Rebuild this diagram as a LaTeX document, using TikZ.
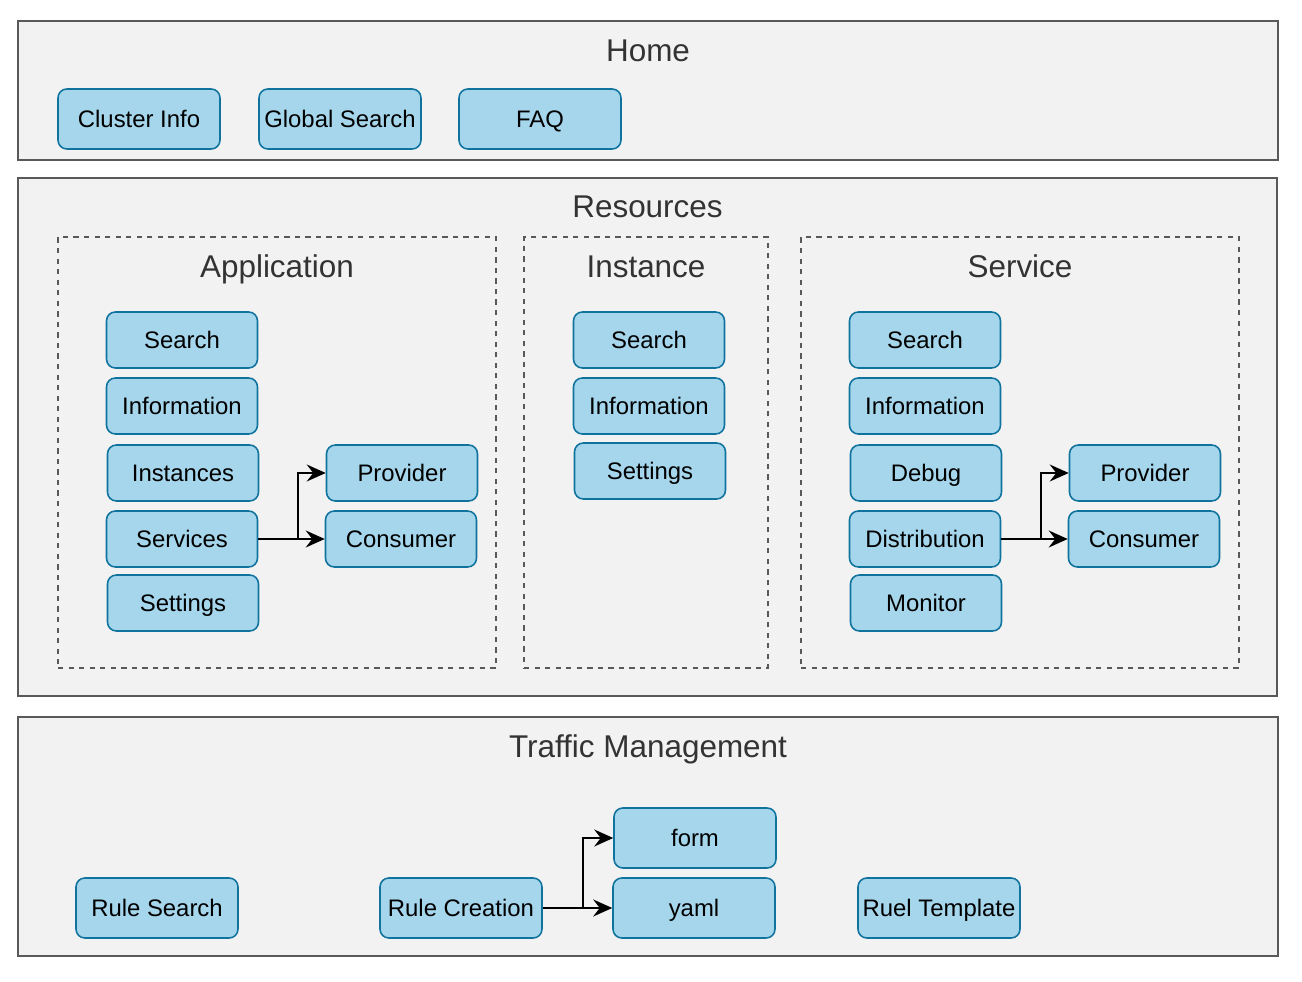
\documentclass[tikz,border=0pt]{standalone}
\usepackage{fontspec}
\setmainfont{Liberation Sans}
\usetikzlibrary{arrows.meta,positioning}
\definecolor{panelfill}{HTML}{F2F2F2}
\definecolor{paneldraw}{HTML}{595959}
\definecolor{itemfill}{HTML}{A5D6EC}
\definecolor{itemdraw}{HTML}{10739E}
\definecolor{titletext}{HTML}{333333}

\begin{document}
\begin{tikzpicture}[
  x=0.02cm, y=-0.02cm,
  node distance=0.2cm and 1.6cm,
  panel/.style={draw=paneldraw, line width=1pt, fill=panelfill, inner sep=0pt},
  group/.style={draw=paneldraw, dashed, line width=0.7pt, fill=panelfill, inner sep=0pt},
  title/.style={text=titletext, anchor=base, font=\fontsize{17.9}{21}\selectfont},
  item/.style={draw=itemdraw, line width=0.9pt, fill=itemfill, rounded corners=5pt,
    minimum width=3.02cm, minimum height=1.12cm, inner sep=1pt,
    text height=1.06em, text depth=0.1em, font=\fontsize{13.6}{16}\selectfont},
  wide/.style={item, minimum width=3.24cm, minimum height=1.2cm},
  link/.style={-{Stealth[length=3.8mm, width=3.4mm, inset=1.3mm]}, line width=1pt}
]
\useasboundingbox (0,0) rectangle (1302,982);

% panels
\node[panel, minimum width=25.2cm, minimum height=2.78cm] (home) at (648,90.5) {};
\node[panel, minimum width=25.18cm, minimum height=10.36cm] (res) at (647.5,437) {};
\node[panel, minimum width=25.2cm, minimum height=4.78cm] (traffic) at (648,836.5) {};
\node[title] at ([yshift=-0.82cm]home.north) {Home};
\node[title] at ([yshift=-0.8cm]res.north) {Resources};
\node[title] at ([yshift=-0.82cm]traffic.north) {Traffic Management};

% resource groups
\node[group, minimum width=8.76cm, minimum height=8.62cm] (app) at (277,452.5) {};
\node[group, minimum width=4.88cm, minimum height=8.62cm] (inst) at (646,452.5) {};
\node[group, minimum width=8.76cm, minimum height=8.62cm] (svc) at (1020,452.5) {};
\node[title] at ([yshift=-0.82cm]app.north) {Application};
\node[title] at ([yshift=-0.82cm]inst.north) {Instance};
\node[title] at ([yshift=-0.82cm]svc.north) {Service};

% home
\node[wide] (cluster) at (139,119) {Cluster Info};
\node[wide] (gsearch) at (340,119) {Global Search};
\node[wide] (faq) at (540,119) {FAQ};

% application
\node[item] (appsearch) at (182,340) {Search};
\node[item] (appinfo) at (182,406) {Information};
\node[item] (appinst) at (183,473) {Instances};
\node[item] (appsvc) at (182,539) {Services};
\node[item] (appset) at (183,603) {Settings};
\node[item] (appprov) at (402,473) {Provider};
\node[item] (appcons) at (401,539) {Consumer};
\draw[link] (appsvc.east) -- ++(40,0) |- (appprov.west);
\draw[link] (appsvc.east) -- (appcons.west);

% instance
\node[item] (instsearch) at (649,340) {Search};
\node[item] (instinfo) at (649,406) {Information};
\node[item] (instset) at (650,471) {Settings};

% service
\node[item] (svcsearch) at (925,340) {Search};
\node[item] (svcinfo) at (925,406) {Information};
\node[item] (svcdebug) at (926,473) {Debug};
\node[item] (svcdist) at (925,539) {Distribution};
\node[item] (svcmon) at (926,603) {Monitor};
\node[item] (svcprov) at (1145,473) {Provider};
\node[item] (svccons) at (1144,539) {Consumer};
\draw[link] (svcdist.east) -- ++(40,0) |- (svcprov.west);
\draw[link] (svcdist.east) -- (svccons.west);

% traffic management
\node[wide] (rsearch) at (157,908) {Rule Search};
\node[wide] (rcreate) at (461,908) {Rule Creation};
\node[wide] (form) at (695,838) {form};
\node[wide] (yaml) at (694,908) {yaml};
\node[wide] (rtemp) at (939,908) {Ruel Template};
\draw[link] (rcreate.east) -- ++(40,0) |- (form.west);
\draw[link] (rcreate.east) -- (yaml.west);
\end{tikzpicture}
\end{document}
